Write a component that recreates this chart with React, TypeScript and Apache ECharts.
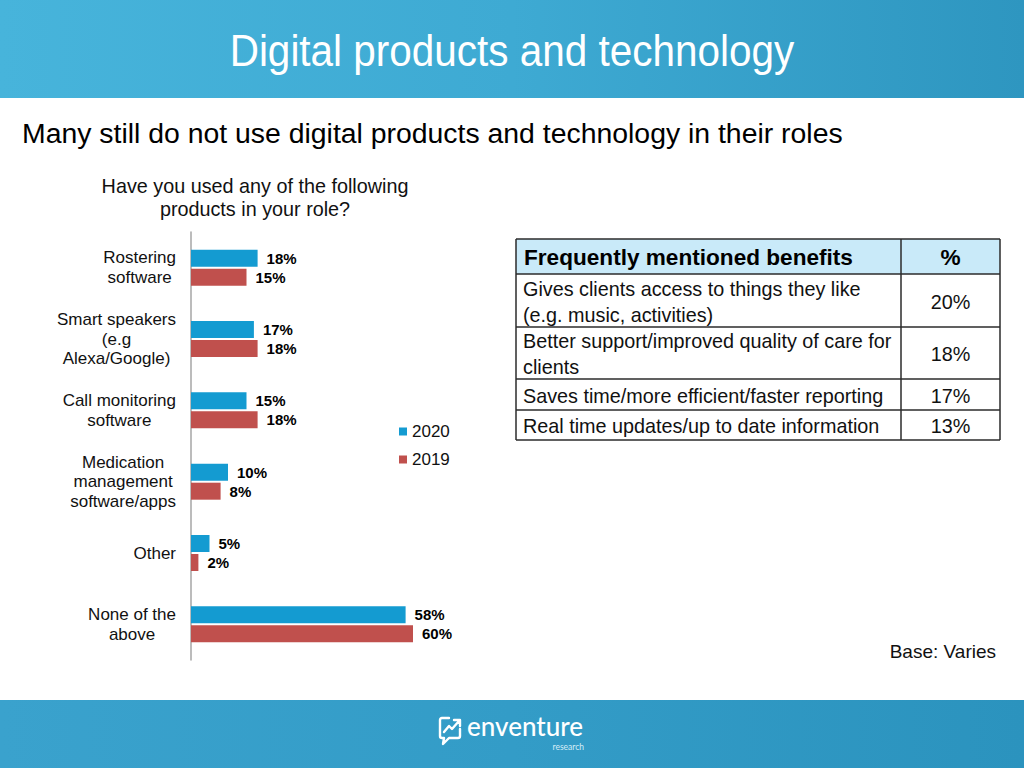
import React, { useEffect, useRef } from "react";
import * as echarts from "echarts";

const categories = [
  "Rostering\nsoftware",
  "Smart speakers\n(e.g\nAlexa/Google)",
  "Call monitoring\nsoftware",
  "Medication\nmanagement\nsoftware/apps",
  "Other",
  "None of the\nabove",
];
const values2020 = [18, 17, 15, 10, 5, 58];
const values2019 = [15, 18, 18, 8, 2, 60];
const seriesNames = ["2020", "2019"];

const tableHeader = ["Frequently mentioned benefits", "%"];
const benefits = [
  "Gives clients access to things they like\n(e.g. music, activities)",
  "Better support/improved quality of care for\nclients",
  "Saves time/more efficient/faster reporting",
  "Real time updates/up to date information",
];
const benefitValues = ["20%", "18%", "17%", "13%"];

const FONT = "'Liberation Sans', Arial, Helvetica, sans-serif";
const BLUE = "#149bd1";
const RED = "#c0504d";

echarts.graphic.registerShape(
  "logo",
  echarts.graphic.extendPath(
    "M11 3 L4 3 Q2 3 2 5 L2 21 Q2 23 4 23 L6 23 L5 29 L11 23 L20 23 Q22 23 22 21 L22 14 M6 17 L11 11 L14 14 L21 6 M16 5 L22 5 L22 11",
    {}
  )
);

function buildTable(): any[] {
  const left = 516;
  const right = 1000;
  const colX = 901;
  const rowY = [239, 274, 327, 379, 410, 440];
  const els: any[] = [];
  els.push({
    type: "rect",
    shape: { x: left, y: rowY[0], width: right - left, height: rowY[1] - rowY[0] },
    style: { fill: "#c9eaf9" },
  });
  els.push({
    type: "text",
    x: 524,
    y: (rowY[0] + rowY[1]) / 2 + 1,
    style: { text: tableHeader[0], font: `bold 22.6px ${FONT}`, fill: "#000", align: "left", verticalAlign: "middle" },
  });
  els.push({
    type: "text",
    x: (colX + right) / 2,
    y: (rowY[0] + rowY[1]) / 2 + 1,
    style: { text: tableHeader[1], font: `bold 22.6px ${FONT}`, fill: "#000", align: "center", verticalAlign: "middle" },
  });
  benefits.forEach((b, i) => {
    const cy = (rowY[i + 1] + rowY[i + 2]) / 2;
    els.push({
      type: "text",
      x: 523,
      y: cy + 1,
      style: {
        text: b,
        font: `19.8px ${FONT}`,
        lineHeight: 26,
        fill: "#111",
        align: "left",
        verticalAlign: "middle",
      },
    });
    els.push({
      type: "text",
      x: (colX + right) / 2,
      y: cy + 1,
      style: { text: benefitValues[i], font: `19.8px ${FONT}`, fill: "#111", align: "center", verticalAlign: "middle" },
    });
  });
  const lineStyle = { stroke: "#2b2b2b", lineWidth: 1.5 };
  rowY.forEach((y) => {
    els.push({ type: "line", shape: { x1: left, y1: y, x2: right, y2: y }, style: lineStyle });
  });
  [left, colX, right].forEach((x) => {
    els.push({ type: "line", shape: { x1: x, y1: rowY[0], x2: x, y2: rowY[5] }, style: lineStyle });
  });
  return els;
}

export default function App() {
  const ref = useRef<HTMLDivElement>(null);
  useEffect(() => {
    if (!ref.current) return;
    const chart = echarts.init(ref.current, null, { renderer: "svg" });
    const labelStyle = {
      show: true,
      position: "right",
      distance: 9,
      formatter: "{c}%",
      fontWeight: "bold",
      fontSize: 15,
      color: "#000",
      fontFamily: FONT,
    };
    const option: any = {
      animation: false,
      backgroundColor: "#ffffff",
      textStyle: { fontFamily: FONT },
      grid: { left: 191, top: 232, right: 463, bottom: 108, containLabel: false },
      legend: {
        data: seriesNames,
        orient: "vertical",
        left: 399,
        top: 423,
        padding: 0,
        itemWidth: 8,
        itemHeight: 8,
        itemGap: 11,
        icon: "rect",
        textStyle: { fontSize: 17, color: "#111", fontFamily: FONT },
      },
      xAxis: { type: "value", min: 0, max: 100, show: false },
      yAxis: {
        type: "category",
        inverse: true,
        data: categories,
        axisLine: { show: true, lineStyle: { color: "#a6a6a6", width: 1.5 } },
        axisTick: { show: false },
        splitLine: { show: false },
        axisLabel: {
          margin: 15,
          formatter: (v: string) =>
            v
              .split("\n")
              .map((l) => "{c|" + l + "}")
              .join("\n"),
          rich: {
            c: { align: "center", fontSize: 17, lineHeight: 19.5, color: "#111", fontFamily: FONT },
          },
        },
      },
      series: [
        {
          name: seriesNames[0],
          type: "bar",
          data: values2020,
          barWidth: 17,
          barGap: "12%",
          itemStyle: { color: BLUE },
          label: labelStyle,
        },
        {
          name: seriesNames[1],
          type: "bar",
          data: values2019,
          barWidth: 17,
          barGap: "12%",
          itemStyle: { color: RED },
          label: labelStyle,
        },
      ],
      graphic: [
        {
          type: "rect",
          shape: { x: 0, y: 0, width: 1024, height: 98 },
          style: {
            fill: new echarts.graphic.LinearGradient(0, 0, 1, 0, [
              { offset: 0, color: "#47b4db" },
              { offset: 0.5, color: "#3eaad3" },
              { offset: 1, color: "#2e96c0" },
            ]),
          },
        },
        {
          type: "text",
          x: 512,
          y: 51,
          scaleX: 0.92,
          style: {
            text: "Digital products and technology",
            font: `44px ${FONT}`,
            fill: "#ffffff",
            align: "center",
            verticalAlign: "middle",
          },
        },
        {
          type: "text",
          x: 22,
          y: 133,
          style: {
            text: "Many still do not use digital products and technology in their roles",
            font: `28.4px ${FONT}`,
            fill: "#000",
            align: "left",
            verticalAlign: "middle",
          },
        },
        {
          type: "text",
          x: 255,
          y: 197,
          style: {
            text: "Have you used any of the following\nproducts in your role?",
            font: `19.8px ${FONT}`,
            lineHeight: 23,
            fill: "#111",
            align: "center",
            verticalAlign: "middle",
          },
        },
        ...buildTable(),
        {
          type: "text",
          x: 996,
          y: 651,
          style: {
            text: "Base: Varies",
            font: `19px ${FONT}`,
            fill: "#111",
            align: "right",
            verticalAlign: "middle",
          },
        },
        {
          type: "rect",
          shape: { x: 0, y: 700, width: 1024, height: 68 },
          style: {
            fill: new echarts.graphic.LinearGradient(0, 0, 1, 0, [
              { offset: 0, color: "#3aa2cd" },
              { offset: 0.5, color: "#339cc7" },
              { offset: 1, color: "#2b93be" },
            ]),
          },
        },
        {
          type: "logo",
          x: 438,
          y: 715,
          style: { stroke: "#ffffff", fill: null, lineWidth: 2.4, lineJoin: "round", lineCap: "round" },
        },
        {
          type: "text",
          x: 467,
          y: 739,
          style: {
            text: "enventure",
            font: `500 26px Lato, ${FONT}`,
            fill: "#ffffff",
            align: "left",
            verticalAlign: "bottom",
          },
        },
        {
          type: "text",
          x: 584,
          y: 742,
          style: {
            text: "research",
            font: `8.5px Lato, ${FONT}`,
            fill: "#d6edf7",
            align: "right",
            verticalAlign: "top",
          },
        },
      ],
    };
    chart.setOption(option);
    return () => chart.dispose();
  }, []);
  return (
    <div
      ref={ref}
      style={{ position: "fixed", left: 0, top: 0, width: 1024, height: 768 }}
    />
  );
}
